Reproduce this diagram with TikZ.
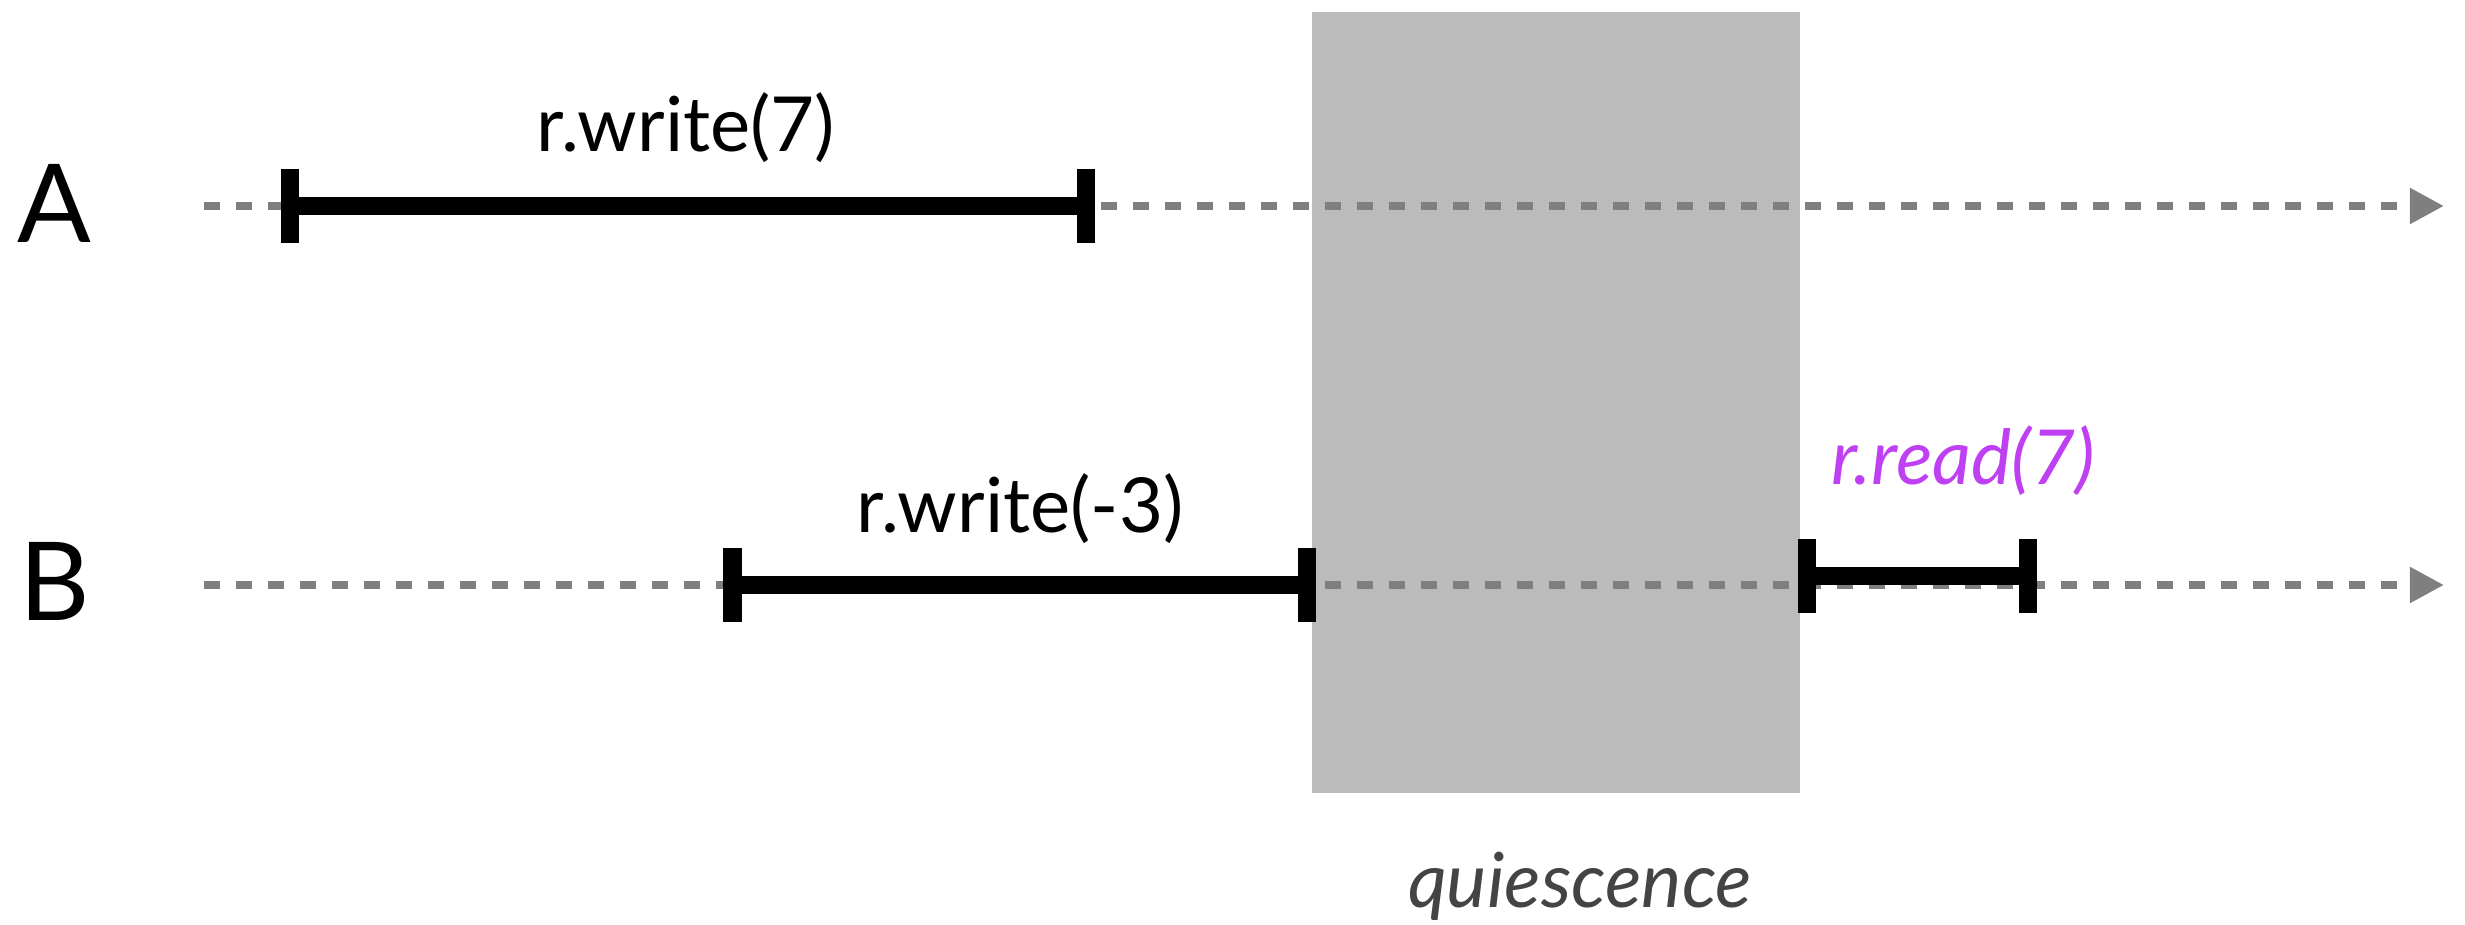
\documentclass[tikz,border=0pt]{standalone}
\usepackage{fontspec}
\setmainfont{Lato}
\usetikzlibrary{arrows.meta}
\definecolor{timegray}{HTML}{7F7F7F}
\definecolor{quietgray}{HTML}{BBBBBB}
\definecolor{readpurple}{RGB}{191,64,242}
\definecolor{notegray}{HTML}{444444}
\begin{document}
\begin{tikzpicture}[x=0.01cm, y=-0.01cm,
  timeline/.style={draw=timegray, line width=0.08cm,
    dash pattern=on 0.16cm off 0.16cm,
    -{Triangle[length=0.34cm, width=0.34cm]}},
  optick/.style={fill=black, draw=none, inner sep=0pt,
    minimum width=0.18cm, minimum height=0.74cm},
  opbar/.style={line width=0.18cm, black},
  oplabel/.style={font=\fontsize{21.6pt}{26pt}\selectfont, anchor=base, inner sep=0pt},
  proclabel/.style={font=\fontsize{31pt}{36pt}\selectfont, anchor=base, inner sep=0pt},
  quietbox/.style={fill=quietgray, draw=none, inner sep=0pt, anchor=north west,
    minimum width=4.88cm, minimum height=7.81cm}
]
\useasboundingbox (0,0) rectangle (2465,925);

% quiescent period
\node[quietbox] (quiet) at (1311,11) {};

% process timelines
\coordinate (Astart) at (204,206);
\coordinate (Aend)   at (2444,206);
\coordinate (Bstart) at (204,585);
\coordinate (Bend)   at (2444,585);
\draw[timeline] (Astart) -- (Aend);
\draw[timeline] (Bstart) -- (Bend);

% A: r.write(7)
\node[optick] (aw1) at (290,206) {};
\node[optick] (aw2) at (1085.5,206) {};
\draw[opbar] (aw1.center) -- (aw2.center);

% B: r.write(-3)
\node[optick] (bw1) at (732.5,585) {};
\node[optick] (bw2) at (1307,585) {};
\draw[opbar] (bw1.center) -- (bw2.center);

% B: r.read(7)
\node[optick] (br1) at (1806.5,576) {};
\node[optick] (br2) at (2028,576) {};
\draw[opbar] (br1.center) -- (br2.center);

% labels
\node[proclabel] (procA) at (54,243) {A};
\node[proclabel] (procB) at (55,621) {B};
\node[oplabel] (lblaw) at (686,152) {r.write(7)};
\node[oplabel] (lblbw) at (1020,533) {r.write(-3)};
\node[oplabel, text=readpurple, font=\fontsize{21.6pt}{26pt}\selectfont\itshape] (lblbr) at (1963,485) {r.read(7)};
\node[oplabel, text=notegray, font=\fontsize{21.6pt}{26pt}\selectfont\itshape] (lblq) at (1580,908) {quiescence};
\end{tikzpicture}
\end{document}
